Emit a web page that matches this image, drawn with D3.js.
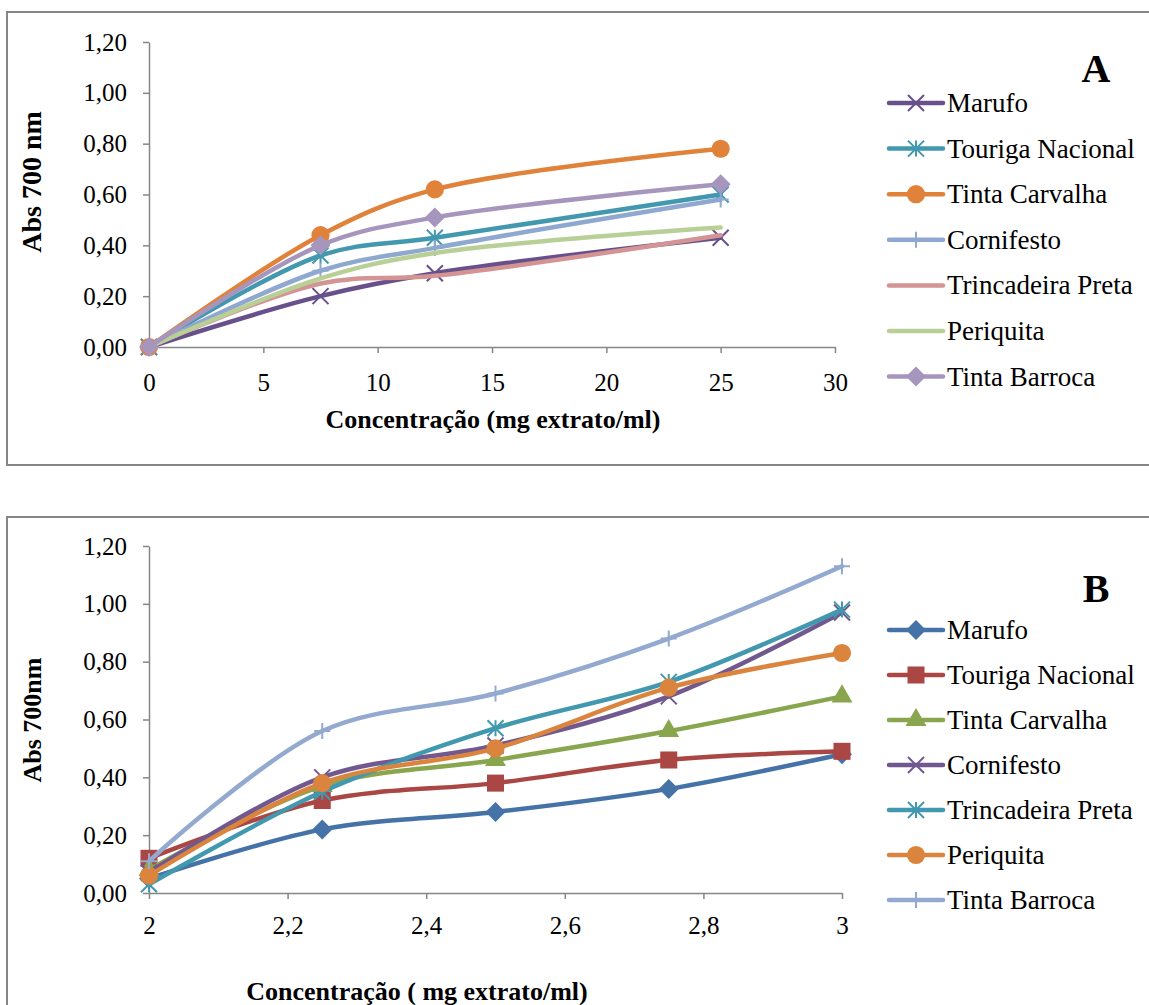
<!DOCTYPE html>
<html>
<head>
<meta charset="utf-8">
<script src="https://d3js.org/d3.v7.min.js"></script>
<style>
  body { margin: 0; background: #fff; }
  svg { display: block; }
  svg text { font-family: "Liberation Serif", "Times New Roman", serif; fill: #000; }
  .axis path, .axis line { stroke: #868686; stroke-width: 1.5px; }
  .axis text { font-size: 25px; }
  .title { font-weight: bold; font-size: 26px; }
  .legend text { font-size: 27px; }
</style>
</head>
<body>
<div id="chart"></div>
<script>
// names of the grape varieties (same order in both panels)
var varieties = ["Marufo", "Touriga Nacional", "Tinta Carvalha", "Cornifesto",
                 "Trincadeira Preta", "Periquita", "Tinta Barroca"];

// panel A : concentration 0 - 25 mg extract/ml
var concA = [0, 7.5, 12.5, 25];
var marufoA      = [0, 0.20, 0.29, 0.43];
var tourigaA     = [0, 0.36, 0.43, 0.60];
var carvalhaA    = [0, 0.44, 0.62, 0.78];
var cornifestoA  = [0, 0.30, 0.39, 0.58];
var trincadeiraA = [0, 0.25, 0.28, 0.44];
var periquitaA   = [0, 0.27, 0.37, 0.47];
var barrocaA     = [0, 0.40, 0.51, 0.64];

// panel B : concentration 2 - 3 mg extract/ml
var concB = [2, 2.25, 2.5, 2.75, 3];
var marufoB      = [0.05, 0.22, 0.28, 0.36, 0.48];
var tourigaB     = [0.12, 0.32, 0.38, 0.46, 0.49];
var carvalhaB    = [0.08, 0.37, 0.46, 0.56, 0.68];
var cornifestoB  = [0.07, 0.40, 0.51, 0.68, 0.97];
var trincadeiraB = [0.03, 0.35, 0.57, 0.73, 0.98];
var periquitaB   = [0.06, 0.38, 0.50, 0.71, 0.83];
var barrocaB     = [0.11, 0.56, 0.69, 0.88, 1.13];

var yTicks = [0, 0.2, 0.4, 0.6, 0.8, 1.0, 1.2];
var xTicksA = [0, 5, 10, 15, 20, 25, 30];
var xTicksB = [2, 2.2, 2.4, 2.6, 2.8, 3];

var colorsA = ["#67508c", "#4198af", "#e0823a", "#8fa8d0", "#d49493", "#b8cf96", "#a696be"];
var markersA = ["cross", "asterisk", "circle", "plus", "none", "none", "diamond"];
var colorsB = ["#4572a7", "#aa4643", "#89a54e", "#71588f", "#4198af", "#db843d", "#93a9cf"];
var markersB = ["diamond", "square", "triangle", "cross", "asterisk", "circle", "plus"];

var svg = d3.select("#chart").append("svg")
  .attr("width", 1149).attr("height", 1005);

function markerPath(type) {
  var h = 8;
  if (type == "cross") return "M" + -h + "," + -h + "L" + h + "," + h + "M" + -h + "," + h + "L" + h + "," + -h;
  if (type == "asterisk") return "M" + -h + "," + -h + "L" + h + "," + h + "M" + -h + "," + h + "L" + h + "," + -h + "M0," + -h + "L0," + h;
  if (type == "plus") return "M" + -h + ",0L" + h + ",0M0," + -h + "L0," + h;
  if (type == "circle") return d3.symbol(d3.symbolCircle, 260)();
  if (type == "square") return d3.symbol(d3.symbolSquare, 290)();
  if (type == "diamond") return "M0,-10L10,0L0,10L-10,0Z";
  if (type == "triangle") return d3.symbol(d3.symbolTriangle, 190)();
  return null;
}
function isOpen(type) { return type == "cross" || type == "asterisk" || type == "plus"; }

function drawMarker(g, type, color, x, y) {
  var p = markerPath(type);
  if (!p) return;
  g.append("path")
    .attr("d", p)
    .attr("transform", "translate(" + x + "," + y + ")")
    .style("fill", isOpen(type) ? "none" : color)
    .style("stroke", color)
    .style("stroke-width", isOpen(type) ? 2 : 0);
}

function panel(opt) {
  var g = svg.append("g");

  // outer frame
  g.append("rect")
    .attr("x", opt.frame[0]).attr("y", opt.frame[1])
    .attr("width", opt.frame[2]).attr("height", opt.frame[3])
    .style("fill", "none").style("stroke", "#868686").style("stroke-width", 2);

  var x = d3.scaleLinear().domain(opt.xDomain).range([149, opt.xRight]);
  var y = d3.scaleLinear().domain([0, 1.2]).range([opt.yBottom, opt.yTop]);
  var fmt = function(d) { return opt.xFormat(d).replace(".", ","); };

  g.append("g").attr("class", "axis")
    .attr("transform", "translate(149,0)")
    .call(d3.axisLeft(y).tickValues(yTicks).tickSize(6).tickSizeOuter(0).tickPadding(16)
      .tickFormat(function(d) { return d3.format(".2f")(d).replace(".", ","); }));

  g.append("g").attr("class", "axis")
    .attr("transform", "translate(0," + opt.yBottom + ")")
    .call(d3.axisBottom(x).tickValues(opt.xTicks).tickSize(6).tickSizeOuter(0).tickPadding(opt.xPad)
      .tickFormat(fmt));

  g.selectAll(".axis").attr("font-family", null).attr("font-size", null);

  var line = d3.line()
    .x(function(d) { return x(d[0]); })
    .y(function(d) { return y(d[1]); })
    .curve(d3.curveCatmullRom.alpha(0.5));

  opt.series.forEach(function(vals, i) {
    var pts = opt.conc.map(function(c, j) { return [c, vals[j]]; });
    g.append("path")
      .attr("d", line(pts))
      .style("fill", "none")
      .style("stroke", opt.colors[i])
      .style("stroke-width", 4.5)
      .style("stroke-linecap", "round");
    pts.forEach(function(p) {
      drawMarker(g, opt.markers[i], opt.colors[i], x(p[0]), y(p[1]));
    });
  });

  // legend
  var lg = g.append("g").attr("class", "legend");
  varieties.forEach(function(name, i) {
    var ly = opt.legendTop + i * opt.legendStep;
    lg.append("line")
      .attr("x1", 889).attr("x2", 943).attr("y1", ly).attr("y2", ly)
      .style("stroke", opt.colors[i]).style("stroke-width", 4.5).style("stroke-linecap", "round");
    drawMarker(lg, opt.markers[i], opt.colors[i], 916, ly);
    lg.append("text").attr("x", 947).attr("y", ly + 9).text(name);
  });

  // panel letter
  g.append("text").attr("x", 1096).attr("y", opt.letterY)
    .attr("text-anchor", "middle")
    .style("font-weight", "bold").style("font-size", "40px")
    .text(opt.letter);

  // axis titles
  g.append("text").attr("class", "title")
    .attr("x", opt.xTitle[0]).attr("y", opt.xTitle[1])
    .attr("text-anchor", "middle")
    .text(opt.xLabel);
  g.append("text").attr("class", "title")
    .attr("transform", "translate(" + opt.yTitle[0] + "," + opt.yTitle[1] + ") rotate(-90)")
    .attr("text-anchor", "middle")
    .style("font-size", opt.yTitleSize + "px")
    .text(opt.yLabel);
}

panel({
  frame: [7, 12, 1160, 453],
  xDomain: [0, 30], xRight: 835, yBottom: 347, yTop: 42,
  xTicks: xTicksA, xPad: 20, xFormat: d3.format("d"),
  conc: concA,
  series: [marufoA, tourigaA, carvalhaA, cornifestoA, trincadeiraA, periquitaA, barrocaA],
  colors: colorsA, markers: markersA,
  legendTop: 103, legendStep: 45.6,
  letter: "A", letterY: 82,
  xLabel: "Concentração (mg extrato/ml)", xTitle: [493, 428],
  yLabel: "Abs 700 nm", yTitle: [41, 182], yTitleSize: 28
});

panel({
  frame: [7, 517, 1160, 520],
  xDomain: [2, 3], xRight: 842, yBottom: 893, yTop: 546,
  xTicks: xTicksB, xPad: 17, xFormat: d3.format("~g"),
  conc: concB,
  series: [marufoB, tourigaB, carvalhaB, cornifestoB, trincadeiraB, periquitaB, barrocaB],
  colors: colorsB, markers: markersB,
  legendTop: 630, legendStep: 45,
  letter: "B", letterY: 602,
  xLabel: "Concentração ( mg extrato/ml)", xTitle: [417, 1000],
  yLabel: "Abs 700nm", yTitle: [41, 720], yTitleSize: 26
});
</script>
</body>
</html>
